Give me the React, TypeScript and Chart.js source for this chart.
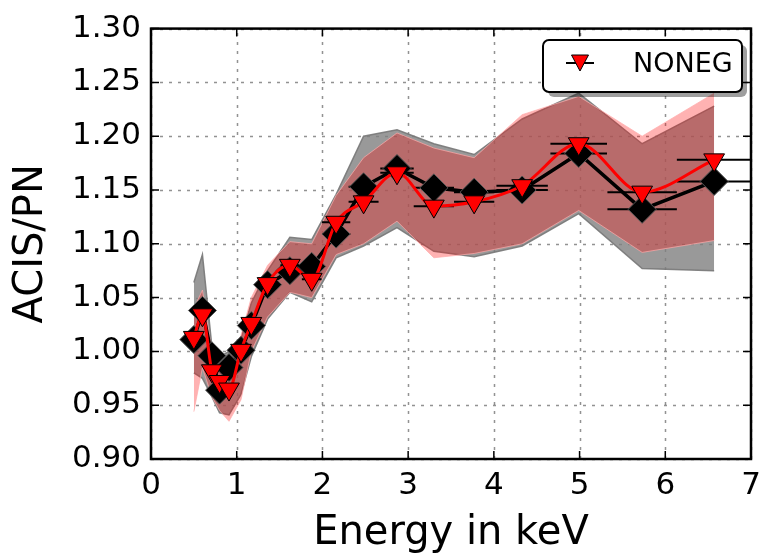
import React, { useEffect, useRef } from 'react';
import { Chart, registerables } from 'chart.js';

Chart.register(...registerables);

// ---- data ----
const energy = [0.5, 0.6, 0.71, 0.8, 0.91, 1.05, 1.17, 1.36, 1.62, 1.875, 2.16, 2.48, 2.87, 3.3, 3.77, 4.33, 4.99, 5.73, 6.57];
const energyHalfWidth = [0.05, 0.05, 0.05, 0.05, 0.065, 0.07, 0.065, 0.08, 0.11, 0.115, 0.165, 0.175, 0.195, 0.235, 0.235, 0.3, 0.33, 0.405, 0.435];
const ratioAll = [1.011, 1.038, 0.996, 0.964, 0.985, 1.001, 1.024, 1.062, 1.075, 1.079, 1.109, 1.153, 1.170, 1.152, 1.148, 1.150, 1.184, 1.132, 1.158];
const ratioNoneg = [1.013, 1.034, 0.982, 0.972, 0.965, 1.001, 1.026, 1.063, 1.080, 1.067, 1.120, 1.139, 1.166, 1.135, 1.139, 1.154, 1.193, 1.148, 1.178];
const bandAllUpper = [1.064, 1.090, 1.005, 0.995, 1.000, 1.012, 1.045, 1.075, 1.106, 1.104, 1.146, 1.200, 1.206, 1.193, 1.183, 1.216, 1.240, 1.193, 1.228];
const bandAllLower = [0.980, 0.975, 0.958, 0.943, 0.941, 0.960, 0.995, 1.030, 1.055, 1.046, 1.087, 1.098, 1.115, 1.093, 1.088, 1.098, 1.128, 1.077, 1.075];
const bandNonegUpper = [1.040, 1.057, 1.000, 0.990, 0.992, 1.015, 1.050, 1.080, 1.102, 1.100, 1.145, 1.180, 1.203, 1.189, 1.180, 1.220, 1.237, 1.200, 1.240];
const bandNonegLower = [0.944, 0.985, 0.958, 0.945, 0.935, 0.955, 1.000, 1.032, 1.055, 1.050, 1.090, 1.100, 1.121, 1.087, 1.091, 1.100, 1.131, 1.092, 1.103];
const xTicks = [0, 1, 2, 3, 4, 5, 6, 7];
const yTicks = [0.9, 0.95, 1.0, 1.05, 1.1, 1.15, 1.2, 1.25, 1.3];
const legendLabel = 'NONEG';
const xTitle = 'Energy in keV';
const yTitle = 'ACIS/PN';

const FONT = '"DejaVu Sans", sans-serif';

const pts = (ys: number[]) => energy.map((x, i) => ({ x, y: ys[i] }));

function roundRect(ctx: CanvasRenderingContext2D, x: number, y: number, w: number, h: number, r: number) {
  ctx.beginPath();
  ctx.moveTo(x + r, y);
  ctx.lineTo(x + w - r, y);
  ctx.arcTo(x + w, y, x + w, y + r, r);
  ctx.lineTo(x + w, y + h - r);
  ctx.arcTo(x + w, y + h, x + w - r, y + h, r);
  ctx.lineTo(x + r, y + h);
  ctx.arcTo(x, y + h, x, y + h - r, r);
  ctx.lineTo(x, y + r);
  ctx.arcTo(x, y, x + r, y, r);
  ctx.closePath();
}

export default function App() {
  const ref = useRef<HTMLCanvasElement>(null);

  useEffect(() => {
    const canvas = ref.current!;

    const xerrPlugin = {
      id: 'xerr',
      beforeDatasetDraw(chart: any, args: any) {
        const ds = chart.data.datasets[args.index];
        if (!ds.xerr) return;
        const { ctx, chartArea, scales } = chart;
        ctx.save();
        ctx.beginPath();
        ctx.rect(chartArea.left, chartArea.top, chartArea.right - chartArea.left, chartArea.bottom - chartArea.top);
        ctx.clip();
        ctx.strokeStyle = '#000';
        ctx.lineWidth = 2;
        ds.data.forEach((p: any, i: number) => {
          const y = scales.y.getPixelForValue(p.y);
          const x1 = scales.x.getPixelForValue(p.x - ds.xerr[i]);
          const x2 = scales.x.getPixelForValue(p.x + ds.xerr[i]);
          ctx.beginPath();
          ctx.moveTo(x1, y);
          ctx.lineTo(x2, y);
          ctx.stroke();
        });
        ctx.restore();
      },
    };

    const framePlugin = {
      id: 'frame',
      beforeDatasetsDraw(chart: any) {
        const { ctx, chartArea: a, scales } = chart;
        ctx.save();
        ctx.strokeStyle = 'rgba(110,110,110,0.75)';
        ctx.lineWidth = 1.5;
        ctx.setLineDash([3, 6]);
        xTicks.forEach((v) => {
          const x = Math.round(scales.x.getPixelForValue(v)) + 0.5;
          ctx.beginPath();
          ctx.moveTo(x, a.bottom);
          ctx.lineTo(x, a.top);
          ctx.stroke();
        });
        yTicks.forEach((v) => {
          const y = Math.round(scales.y.getPixelForValue(v)) + 0.5;
          ctx.beginPath();
          ctx.moveTo(a.left, y);
          ctx.lineTo(a.right, y);
          ctx.stroke();
        });
        ctx.restore();
      },
      afterDatasetsDraw(chart: any) {
        const { ctx, chartArea: a, scales } = chart;
        ctx.save();
        ctx.strokeStyle = '#000';
        ctx.lineWidth = 1.5;
        const tl = 8;
        xTicks.forEach((v) => {
          const x = scales.x.getPixelForValue(v);
          ctx.beginPath();
          ctx.moveTo(x, a.bottom);
          ctx.lineTo(x, a.bottom - tl);
          ctx.moveTo(x, a.top);
          ctx.lineTo(x, a.top + tl);
          ctx.stroke();
        });
        yTicks.forEach((v) => {
          const y = scales.y.getPixelForValue(v);
          ctx.beginPath();
          ctx.moveTo(a.left, y);
          ctx.lineTo(a.left + tl, y);
          ctx.moveTo(a.right, y);
          ctx.lineTo(a.right - tl, y);
          ctx.stroke();
        });
        ctx.lineWidth = 2.5;
        ctx.strokeRect(a.left, a.top, a.right - a.left, a.bottom - a.top);
        ctx.restore();
      },
      afterDraw(chart: any) {
        const { ctx } = chart;
        ctx.save();
        // legend box with shadow
        const bx = 543, by = 40, bw = 199, bh = 52;
        roundRect(ctx, bx + 5, by + 5, bw, bh, 6);
        ctx.fillStyle = 'rgba(0,0,0,0.38)';
        ctx.fill();
        roundRect(ctx, bx, by, bw, bh, 6);
        ctx.fillStyle = '#fff';
        ctx.fill();
        ctx.lineWidth = 2;
        ctx.strokeStyle = '#000';
        ctx.stroke();
        // marker with error bar
        const mx = 580, my = 63;
        ctx.beginPath();
        ctx.moveTo(mx - 14, my);
        ctx.lineTo(mx + 14, my);
        ctx.lineWidth = 2;
        ctx.stroke();
        ctx.beginPath();
        ctx.moveTo(mx - 8.5, my - 8);
        ctx.lineTo(mx + 8.5, my - 8);
        ctx.lineTo(mx, my + 8);
        ctx.closePath();
        ctx.fillStyle = '#ff0000';
        ctx.fill();
        ctx.lineWidth = 1;
        ctx.stroke();
        ctx.fillStyle = '#000';
        ctx.font = '27px ' + FONT;
        ctx.textBaseline = 'middle';
        ctx.textAlign = 'left';
        ctx.fillText(legendLabel, 633, 65);
        ctx.restore();
      },
    };

    const chart = new Chart(canvas, {
      type: 'line',
      data: {
        datasets: [
          {
            label: 'all upper',
            data: pts(bandAllUpper),
            borderColor: 'rgba(120,120,120,0.9)',
            borderWidth: 1.5,
            pointRadius: 0,
            fill: false,
            order: 5,
          },
          {
            label: 'all lower',
            data: pts(bandAllLower),
            borderColor: 'rgba(120,120,120,0.9)',
            borderWidth: 1.5,
            pointRadius: 0,
            backgroundColor: 'rgba(128,128,128,0.8)',
            fill: '-1',
            order: 5,
          },
          {
            label: 'noneg upper',
            data: pts(bandNonegUpper),
            borderColor: 'rgba(255,170,170,0.7)',
            borderWidth: 1,
            pointRadius: 0,
            fill: false,
            order: 3,
          },
          {
            label: 'noneg lower',
            data: pts(bandNonegLower),
            borderColor: 'rgba(255,170,170,0.7)',
            borderWidth: 1,
            pointRadius: 0,
            backgroundColor: 'rgba(255,0,0,0.3)',
            fill: '-1',
            order: 3,
          },
          {
            label: 'ALL',
            data: pts(ratioAll),
            xerr: energyHalfWidth,
            borderColor: '#000',
            borderWidth: 3.5,
            tension: 0,
            pointStyle: 'rectRot',
            pointRadius: 14,
            pointBackgroundColor: '#000',
            pointBorderColor: '#555',
            pointBorderWidth: 1,
            fill: false,
            order: 1,
          } as any,
          {
            label: legendLabel,
            data: pts(ratioNoneg),
            xerr: energyHalfWidth,
            borderColor: '#ff0000',
            borderWidth: 3,
            cubicInterpolationMode: 'monotone',
            pointStyle: 'triangle',
            pointRotation: 180,
            pointRadius: 12,
            pointBackgroundColor: '#ff0000',
            pointBorderColor: '#000',
            pointBorderWidth: 1,
            fill: false,
            order: 0,
          } as any,
        ],
      },
      options: {
        responsive: false,
        animation: false,
        layout: { padding: { left: 0, right: 18, top: 27, bottom: 0 } },
        plugins: { legend: { display: false }, tooltip: { enabled: false } },
        scales: {
          x: {
            type: 'linear',
            min: 0,
            max: 7,
            afterFit: (s: any) => { s.height = 97; },
            afterBuildTicks: (s: any) => { s.ticks = xTicks.map((v) => ({ value: v })); },
            ticks: {
              font: { family: FONT, size: 31 },
              color: '#000',
              padding: 8,
              maxRotation: 0,
              autoSkip: false,
              callback: (v: any) => String(v),
            },
            grid: { display: false, drawTicks: false },
            border: { display: false },
            title: {
              display: true,
              text: xTitle,
              color: '#000',
              font: { family: FONT, size: 40, lineHeight: 1.1 },
              padding: { top: 0, bottom: 0 },
            },
          },
          y: {
            type: 'linear',
            min: 0.9,
            max: 1.3,
            afterFit: (s: any) => { s.width = 151; },
            afterBuildTicks: (s: any) => { s.ticks = yTicks.map((v) => ({ value: v })); },
            ticks: {
              font: { family: FONT, size: 31 },
              color: '#000',
              padding: 10,
              autoSkip: false,
              callback: (v: any) => Number(v).toFixed(2),
            },
            grid: { display: false, drawTicks: false },
            border: { display: false },
            title: {
              display: true,
              text: yTitle,
              color: '#000',
              font: { family: FONT, size: 40, lineHeight: 1.1 },
              padding: { top: 10, bottom: 0 },
            },
          },
        },
      },
      plugins: [xerrPlugin, framePlugin],
    } as any);

    return () => chart.destroy();
  }, []);

  return (
    <div style={{ position: 'fixed', left: 0, top: 0, width: 769, height: 556, background: '#fff' }}>
      <canvas ref={ref} width={769} height={556} style={{ display: 'block', width: 769, height: 556 }} />
    </div>
  );
}
